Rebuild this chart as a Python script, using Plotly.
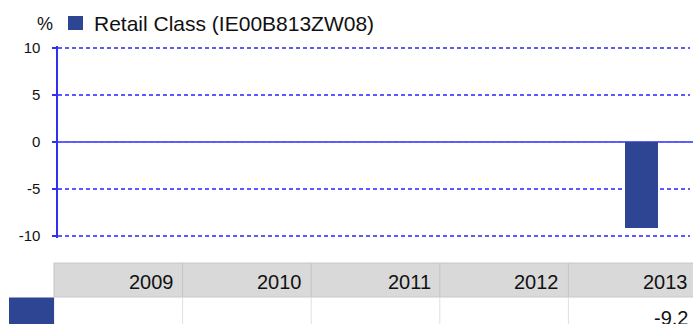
import plotly.graph_objects as go

years = ["2009", "2010", "2011", "2012", "2013"]
values = [None, None, None, None, -9.2]
series_name = "Retail Class (IE00B813ZW08)"
y_ticks = [-10, -5, 0, 5, 10]

W, H = 693, 324
L, R, T, B = 58, 3, 46, 86
PW = W - L - R
PH = H - T - B
YR = PH / 2 / 9.4
BAR = "#2d4592"
GRID = "#5a5aff"
AXIS = "#3030f0"
FONT = "Liberation Sans, Arial, sans-serif"


def px_x(px):
    return (px - L) / PW


def px_y(py):
    return (H - B - py) / PH


fig = go.Figure()
fig.add_trace(go.Bar(
    x=years, y=values, name=series_name,
    marker=dict(color=BAR, line=dict(width=0)),
    width=0.26, offset=-0.015, showlegend=False,
))

shapes = []
annotations = []

# zero line
shapes.append(dict(type="line", xref="paper", yref="y", x0=0, x1=px_x(W + 2), y0=0, y1=0,
                   line=dict(color=AXIS, width=1.6), layer="below"))

# table geometry
col_left = 54
col_w = 128.6
hdr_top, hdr_bot = 263, 297
row_bot = 330

shapes.append(dict(type="rect", xref="paper", yref="paper",
                   x0=px_x(col_left), x1=px_x(W + 5), y0=px_y(hdr_top), y1=px_y(hdr_bot),
                   fillcolor="#d9d9d9", line=dict(width=0), layer="below"))
shapes.append(dict(type="line", xref="paper", yref="paper",
                   x0=px_x(col_left), x1=px_x(W + 5), y0=px_y(hdr_top), y1=px_y(hdr_top),
                   line=dict(color="#c8c8c8", width=1)))
shapes.append(dict(type="line", xref="paper", yref="paper",
                   x0=px_x(col_left), x1=px_x(W + 5), y0=px_y(hdr_bot), y1=px_y(hdr_bot),
                   line=dict(color="#c8c8c8", width=1)))
for i in range(len(years) + 1):
    xb = col_left + i * col_w
    shapes.append(dict(type="line", xref="paper", yref="paper",
                       x0=px_x(xb), x1=px_x(xb), y0=px_y(hdr_top), y1=px_y(hdr_bot),
                       line=dict(color="#c4c4c4", width=1)))
    shapes.append(dict(type="line", xref="paper", yref="paper",
                       x0=px_x(xb), x1=px_x(xb), y0=px_y(hdr_bot), y1=px_y(row_bot),
                       line=dict(color="#e0e0e0", width=1)))
# series swatch in table row
shapes.append(dict(type="rect", xref="paper", yref="paper",
                   x0=px_x(9), x1=px_x(col_left), y0=px_y(hdr_bot + 0.5), y1=px_y(row_bot),
                   fillcolor=BAR, line=dict(width=0)))

for i, (yr, v) in enumerate(zip(years, values)):
    xr = col_left + (i + 1) * col_w - 7
    annotations.append(dict(xref="paper", yref="paper", x=px_x(xr), y=px_y(282),
                            text=yr, showarrow=False, xanchor="right", yanchor="middle",
                            font=dict(size=20, color="#111111", family=FONT)))
    if v is not None:
        annotations.append(dict(xref="paper", yref="paper", x=px_x(xr), y=px_y(318),
                                text=f"{v:.1f}", showarrow=False, xanchor="right", yanchor="middle",
                                font=dict(size=20, color="#111111", family=FONT)))

# unit label
annotations.append(dict(xref="paper", yref="paper", x=px_x(55), y=px_y(24),
                        text="%", showarrow=False, xanchor="right", yanchor="middle",
                        font=dict(size=18, color="#111111", family=FONT)))
# legend (swatch + name)
shapes.append(dict(type="rect", xref="paper", yref="paper",
                   x0=px_x(68), x1=px_x(83), y0=px_y(16), y1=px_y(30),
                   fillcolor=BAR, line=dict(width=0)))
annotations.append(dict(xref="paper", yref="paper", x=px_x(92), y=px_y(23.5),
                        text=series_name, showarrow=False, xanchor="left", yanchor="middle",
                        font=dict(size=21, color="#111111", family=FONT)))

fig.update_layout(
    width=W, height=H,
    margin=dict(l=L, r=R, t=T, b=B, pad=0, autoexpand=False),
    paper_bgcolor="white", plot_bgcolor="white",
    font=dict(family=FONT, color="#111111"),
    showlegend=False,
    bargap=0,
    shapes=shapes,
    annotations=annotations,
    xaxis=dict(type="category", range=[-0.5, 4.5], showticklabels=False, automargin=False,
               showgrid=False, zeroline=False, showline=False, ticks="", fixedrange=True),
    yaxis=dict(range=[-YR, YR], tickvals=y_ticks, ticktext=[str(t) for t in y_ticks],
               automargin=False,
               showgrid=True, gridcolor=GRID, griddash="4px,3px", gridwidth=1.6,
               zeroline=False,
               showline=True, linecolor=AXIS, linewidth=1.6,
               ticks="outside", ticklen=4, tickcolor=AXIS, tickwidth=1.6,
               ticklabelstandoff=9,
               tickfont=dict(size=15, color="#111111", family=FONT), fixedrange=True),
)

fig.write_html(
    "out.html",
    config={"displayModeBar": False, "staticPlot": True},
    post_script="document.body.style.margin='0';document.body.style.overflow='hidden';",
)
